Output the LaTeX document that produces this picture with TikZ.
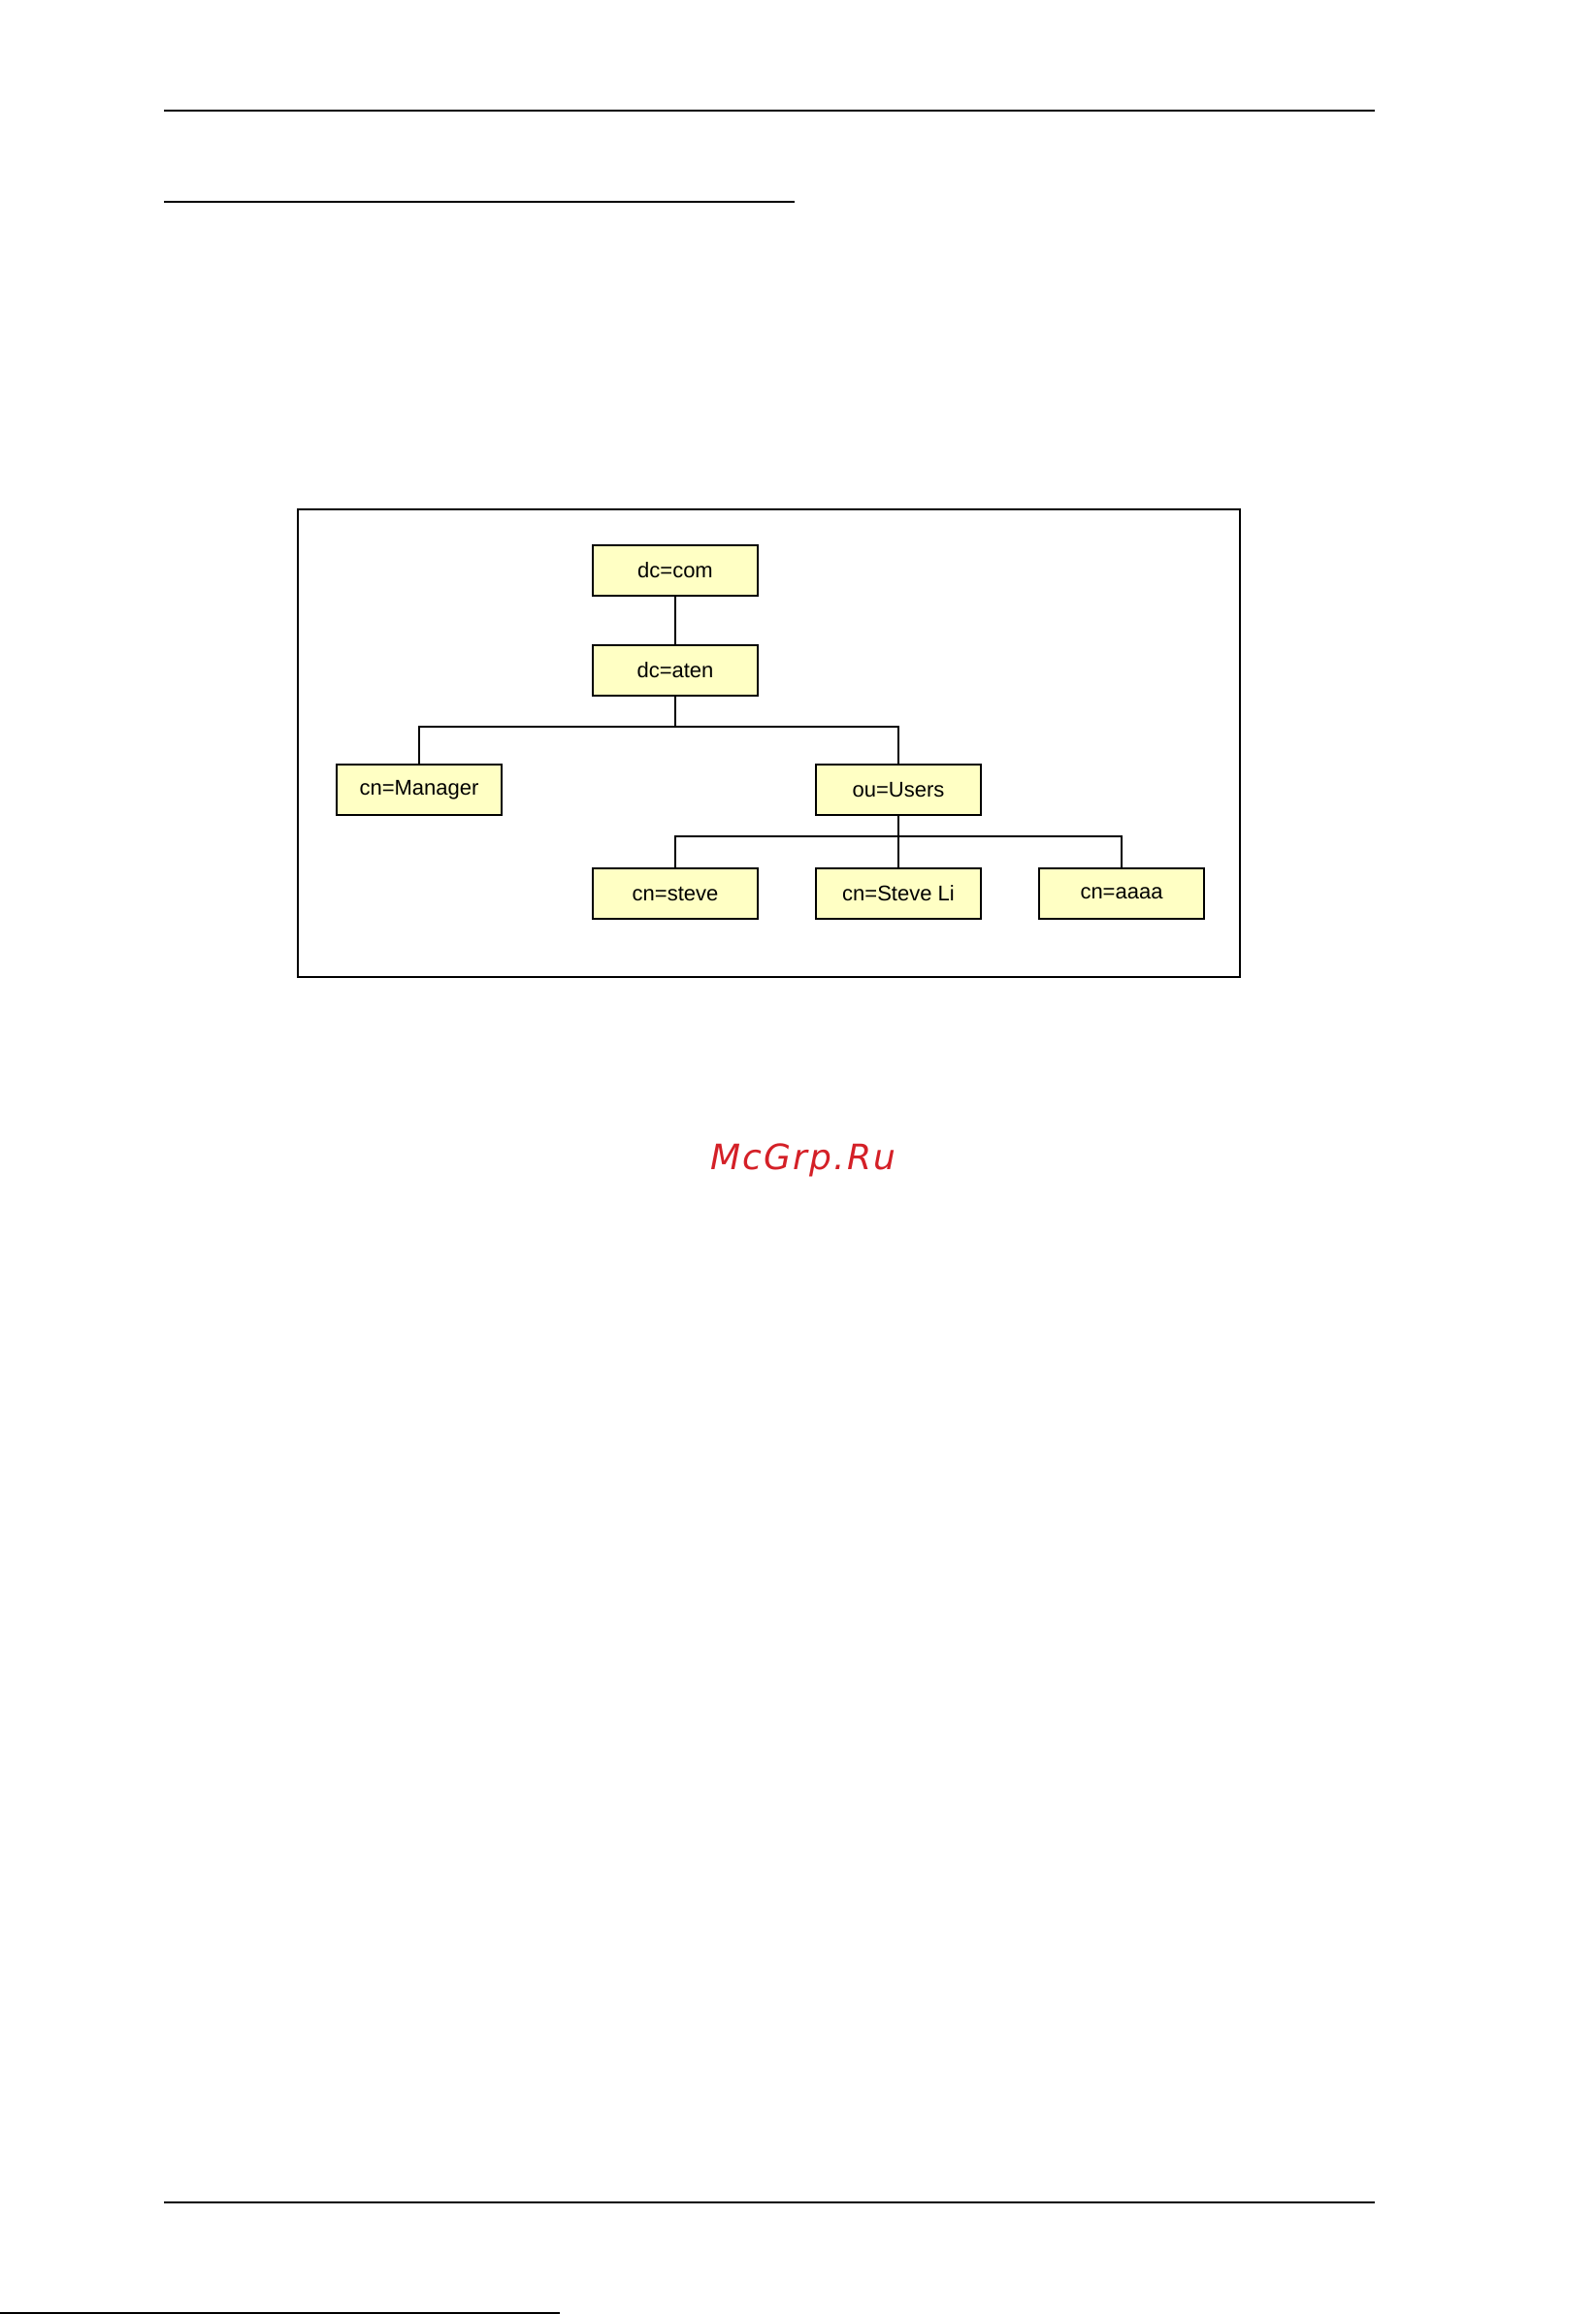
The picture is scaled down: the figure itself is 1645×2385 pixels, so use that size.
\documentclass[tikz,border=0pt]{standalone}
\usepackage{fontspec}
\setmainfont{Liberation Sans}
\newfontfamily\wmfont[LetterSpace=6]{DejaVu Sans}
\definecolor{ldapyellow}{RGB}{255,255,196}
\definecolor{wmred}{RGB}{212,32,39}
\begin{document}
\begin{tikzpicture}[x=1pt,y=-1pt,
  entry/.style={draw, fill=ldapyellow, minimum width=170pt, minimum height=52pt,
    inner sep=0pt, line width=1.8pt, font=\fontsize{22}{26}\selectfont},
  link/.style={line width=1.5pt},
  rule/.style={line width=2.2pt}]
\useasboundingbox (0,0) rectangle (1645,2385);
% page rules
\coordinate (t1) at (169,114); \coordinate (t2) at (1417,114);
\coordinate (s1) at (169,208); \coordinate (s2) at (819,208);
\coordinate (f1) at (169,2270); \coordinate (f2) at (1417,2270);
\coordinate (g1) at (0,2384); \coordinate (g2) at (577,2384);
\draw[rule] (t1) -- (t2);
\draw[rule] (s1) -- (s2);
\draw[rule] (f1) -- (f2);
\draw[line width=2pt] (g1) -- (g2);
% frame
\draw[line width=1.6pt] (307,525) rectangle (1278,1007);
% nodes
\node[entry] (com) at (696,588) {dc=com};
\node[entry] (aten) at (696,691) {dc=aten};
\node[entry] (mgr) at (432,814) {cn=Manager};
\node[entry] (users) at (926,814) {ou=Users};
\node[entry] (steve) at (696,921) {cn=steve};
\node[entry] (steveli) at (926,921) {cn=Steve Li};
\node[entry] (aaaa) at (1156,921) {cn=aaaa};
\coordinate (b1) at (696,749);
\coordinate (b2) at (926,862);
% connectors
\draw[link] (com) -- (aten);
\draw[link] (aten) -- (b1);
\draw[link] (mgr.north) |- (b1) -| (users.north);
\draw[link] (users) -- (steveli);
\draw[link] (steve.north) |- (b2) -| (aaaa.north);
% watermark
\node[text=wmred, font=\wmfont\itshape\fontsize{36}{40}\selectfont] (wm) at (828,1196) {McGrp.Ru};
\end{tikzpicture}
\end{document}
